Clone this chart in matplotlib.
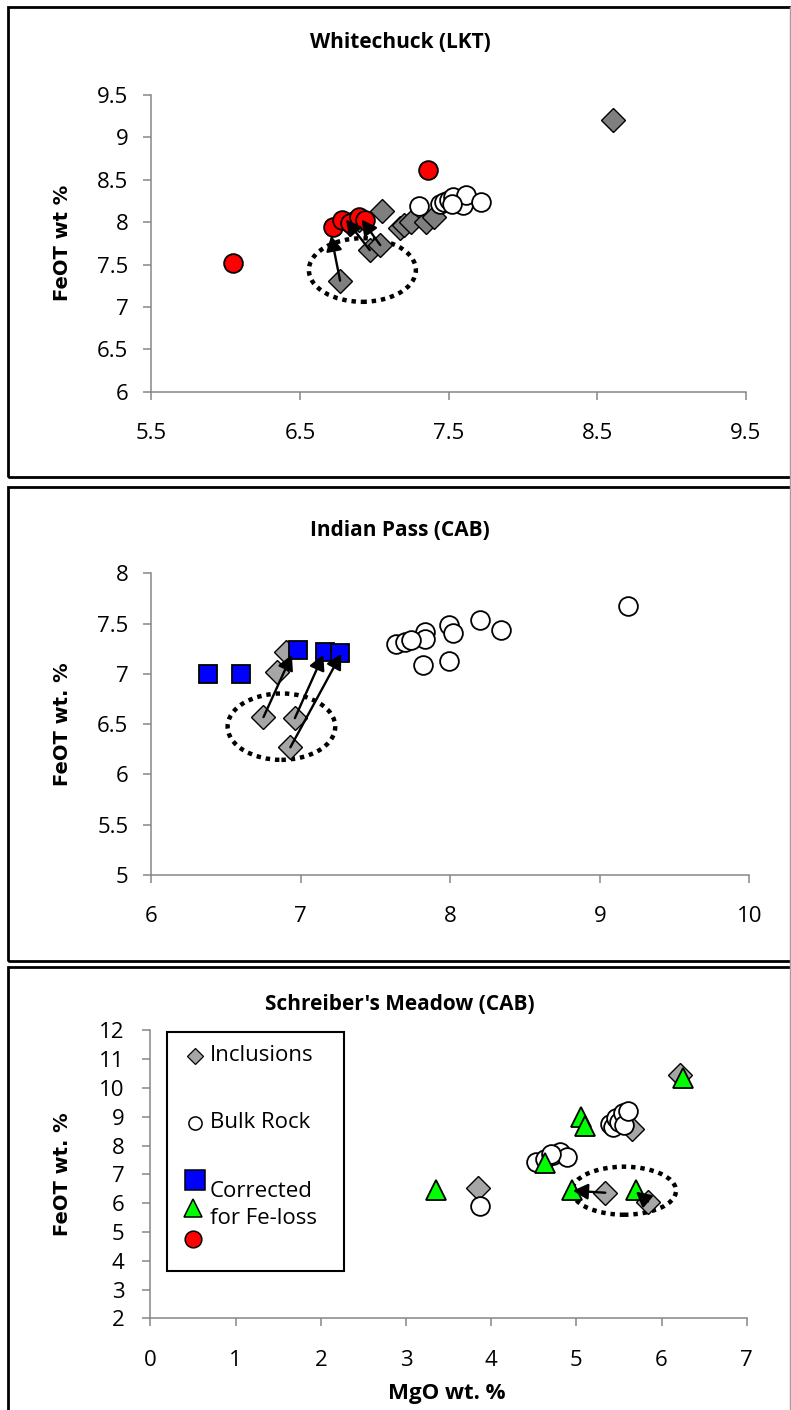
import matplotlib
matplotlib.use("Agg")
import matplotlib.pyplot as plt
from matplotlib.patches import Ellipse, Rectangle
from matplotlib.lines import Line2D

plt.rcParams["font.family"] = ["Open Sans", "DejaVu Sans"]

# --- Whitechuck (LKT) ---
wc_incl_mgo = [8.61, 7.05, 6.77, 6.97, 7.04, 7.17, 7.20, 7.25, 7.35, 7.40, 6.84, 6.90]
wc_incl_feo = [9.20, 8.13, 7.31, 7.67, 7.73, 7.93, 7.97, 8.00, 8.00, 8.06, 7.98, 8.02]
wc_bulk_mgo = [7.30, 7.44, 7.47, 7.50, 7.53, 7.60, 7.62, 7.72, 7.52]
wc_bulk_feo = [8.19, 8.22, 8.24, 8.26, 8.30, 8.20, 8.32, 8.24, 8.22]
wc_corr_mgo = [6.05, 7.36, 6.72, 6.78, 6.84, 6.90, 6.94]
wc_corr_feo = [7.52, 8.62, 7.94, 8.03, 7.99, 8.06, 8.03]
wc_arrow_from = [(6.77, 7.31), (6.97, 7.67), (7.04, 7.73)]
wc_arrow_to = [(6.71, 7.84), (6.81, 8.03), (6.915, 8.03)]
wc_ring = (6.92, 7.435, 0.72, 0.75)

# --- Indian Pass (CAB) ---
ip_incl_mgo = [6.84, 6.90, 6.75, 6.96, 6.93]
ip_incl_feo = [7.02, 7.22, 6.57, 6.56, 6.27]
ip_bulk_mgo = [9.19, 8.20, 8.34, 7.99, 8.02, 7.83, 7.83, 7.82, 7.99, 7.64, 7.70, 7.74]
ip_bulk_feo = [7.67, 7.54, 7.44, 7.49, 7.41, 7.42, 7.35, 7.09, 7.13, 7.30, 7.32, 7.34]
ip_corr_mgo = [6.38, 6.60, 6.98, 7.16, 7.26]
ip_corr_feo = [7.00, 7.00, 7.24, 7.22, 7.21]
ip_arrow_from = [(6.75, 6.57), (6.96, 6.56), (6.93, 6.27)]
ip_arrow_to = [(6.94, 7.19), (7.15, 7.19), (7.27, 7.20)]
ip_ring = (6.87, 6.475, 0.72, 0.66)

# --- Schreiber's Meadow (CAB) ---
sm_incl_mgo = [6.22, 3.85, 5.34, 5.84, 5.65]
sm_incl_feo = [10.45, 6.51, 6.34, 6.05, 8.58]
sm_bulk_mgo = [3.87, 4.53, 4.63, 4.73, 4.81, 4.89, 4.70,
               5.39, 5.43, 5.47, 5.50, 5.55, 5.56, 5.61]
sm_bulk_feo = [5.90, 7.42, 7.52, 7.67, 7.78, 7.60, 7.70,
               8.75, 8.64, 8.94, 8.83, 9.12, 8.70, 9.20]
sm_corr_mgo = [6.25, 5.06, 5.10, 4.63, 3.35, 4.95, 5.70]
sm_corr_feo = [10.35, 9.00, 8.68, 7.38, 6.45, 6.44, 6.47]
sm_arrow_from = [(5.34, 6.36), (5.84, 6.05)]
sm_arrow_to = [(4.96, 6.43), (5.70, 6.40)]
sm_ring = (5.56, 6.43, 1.22, 1.67)

W, H = 791, 1410
AXIS_GRAY = "#868686"


def px_rect(x0, y0, x1, y1):
    # pixel box (top-left origin) -> figure fraction [l, b, w, h]
    return [x0 / W, 1 - y1 / H, (x1 - x0) / W, (y1 - y0) / H]


def style_axes(ax, xlim, xticks, ylim, yticks, ypad):
    for side in ("top", "right"):
        ax.spines[side].set_visible(False)
    for side in ("left", "bottom"):
        ax.spines[side].set_color(AXIS_GRAY)
        ax.spines[side].set_linewidth(1.1)
    ax.set_xlim(*xlim)
    ax.set_ylim(*ylim)
    ax.set_xticks(xticks)
    ax.set_yticks(yticks)
    ax.set_xticklabels([f"{v:g}" for v in xticks])
    ax.set_yticklabels([f"{v:g}" for v in yticks])
    ax.tick_params(direction="out", length=5.5, width=1.1, color=AXIS_GRAY, labelsize=16)
    ax.tick_params(axis="x", pad=17)
    ax.tick_params(axis="y", pad=ypad)


def draw_panel(ax, incl, bulk, corr, corr_style, arrows, ring, incl_color):
    ax.plot(incl[0], incl[1], ls="none", marker="D", ms=12.5, mfc=incl_color,
            mec="black", mew=1.0, zorder=3)
    ax.plot(bulk[0], bulk[1], ls="none", marker="o", ms=13.5, mfc="white",
            mec="black", mew=1.3, zorder=4)
    marker, color, ms = corr_style
    ax.plot(corr[0], corr[1], ls="none", marker=marker, ms=ms, mfc=color,
            mec="black", mew=1.3, zorder=5)
    for start, end in zip(*arrows):
        ax.annotate("", xy=end, xytext=start, zorder=6,
                    arrowprops=dict(arrowstyle="-|>,head_length=0.6,head_width=0.32",
                                    color="black", lw=1.7, shrinkA=0, shrinkB=0,
                                    mutation_scale=15))
    cx, cy, w, h = ring
    ax.add_patch(Ellipse((cx, cy), w, h, fill=False, ec="black", lw=3.2,
                         linestyle=(0, (1, 1.1)), zorder=2))


fig = plt.figure(figsize=(W / 100, H / 100), dpi=100)

# panel frames, running past the right edge
for top, bottom in [(6.5, 477), (486.5, 961), (967, 1425)]:
    fig.add_artist(Rectangle((7.5 / W, 1 - bottom / H), 1.05, (bottom - top) / H,
                             transform=fig.transFigure, fill=False, ec="black", lw=2.0))
fig.add_artist(Line2D([0.9987, 0.9987], [0, 0.995], transform=fig.transFigure,
                      color="#a0a0a0", lw=1))

ax1 = fig.add_axes(px_rect(151.4, 95, 745.7, 391.7))
ax2 = fig.add_axes(px_rect(151.4, 573.3, 749.2, 875))
ax3 = fig.add_axes(px_rect(150.4, 1030.3, 746.7, 1318.3))

style_axes(ax1, (5.5, 9.5), [5.5, 6.5, 7.5, 8.5, 9.5], (6, 9.5),
           [6, 6.5, 7, 7.5, 8, 8.5, 9, 9.5], 11)
style_axes(ax2, (6, 10), [6, 7, 8, 9, 10], (5, 8),
           [5, 5.5, 6, 6.5, 7, 7.5, 8], 11)
style_axes(ax3, (0, 7), list(range(0, 8)), (2, 12), list(range(2, 13)), 13)

draw_panel(ax1, (wc_incl_mgo, wc_incl_feo), (wc_bulk_mgo, wc_bulk_feo),
           (wc_corr_mgo, wc_corr_feo), ("o", "#ff0000", 13.5),
           (wc_arrow_from, wc_arrow_to), wc_ring, "#7f7f7f")
draw_panel(ax2, (ip_incl_mgo, ip_incl_feo), (ip_bulk_mgo, ip_bulk_feo),
           (ip_corr_mgo, ip_corr_feo), ("s", "#0000ff", 13.5),
           (ip_arrow_from, ip_arrow_to), ip_ring, "#a6a6a6")
draw_panel(ax3, (sm_incl_mgo, sm_incl_feo), (sm_bulk_mgo, sm_bulk_feo),
           (sm_corr_mgo, sm_corr_feo), ("^", "#00ff00", 14),
           (sm_arrow_from, sm_arrow_to), sm_ring, "#a6a6a6")

# titles and axis labels
title_kw = dict(ha="center", va="center", fontsize=15, fontweight="bold")
fig.text(400 / W, 1 - 42 / H, "Whitechuck (LKT)", **title_kw)
fig.text(400 / W, 1 - 530 / H, "Indian Pass (CAB)", **title_kw)
fig.text(400 / W, 1 - 1005 / H, "Schreiber's Meadow (CAB)", **title_kw)

ylab_kw = dict(rotation=90, ha="center", va="center", fontsize=14,
               fontweight="bold", family="DejaVu Sans")
for ax, label in [(ax1, "FeOT wt %"), (ax2, "FeOT wt. %"), (ax3, "FeOT wt. %")]:
    l, b, w, h = ax.get_position().bounds
    fig.text(63 / W, b + h / 2, label, **ylab_kw)
fig.text(447 / W, 1 - 1393 / H, "MgO wt. %", ha="center", va="center",
         fontsize=16, fontweight="bold")

# legend box in the bottom panel
t = ax3.transAxes
ax3.add_patch(Rectangle((0.028, 0.165), 0.297, 0.83, transform=t, fill=False,
                        ec="black", lw=1.5, zorder=7))
ax3.plot([0.075], [0.911], transform=t, marker="D", ms=8.5, mfc="#a6a6a6",
         mec="black", mew=0.9, ls="none", zorder=8)
ax3.text(0.100, 0.911, "Inclusions", transform=t, va="center", fontsize=16, zorder=8)
ax3.plot([0.074], [0.679], transform=t, marker="o", ms=9.5, mfc="white",
         mec="black", mew=1.1, ls="none", zorder=8)
ax3.text(0.100, 0.679, "Bulk Rock", transform=t, va="center", fontsize=16, zorder=8)
ax3.plot([0.074], [0.480], transform=t, marker="s", ms=14, mfc="#0000ff",
         mec="black", mew=1.1, ls="none", zorder=8)
ax3.plot([0.071], [0.382], transform=t, marker="^", ms=13, mfc="#00ff00",
         mec="black", mew=1.1, ls="none", zorder=8)
ax3.plot([0.071], [0.274], transform=t, marker="o", ms=12, mfc="#ff0000",
         mec="black", mew=1.1, ls="none", zorder=8)
ax3.text(0.100, 0.393, "Corrected\nfor Fe-loss", transform=t, va="center",
         fontsize=16, linespacing=1.35, zorder=8)

fig.savefig("out.png", dpi=100)
